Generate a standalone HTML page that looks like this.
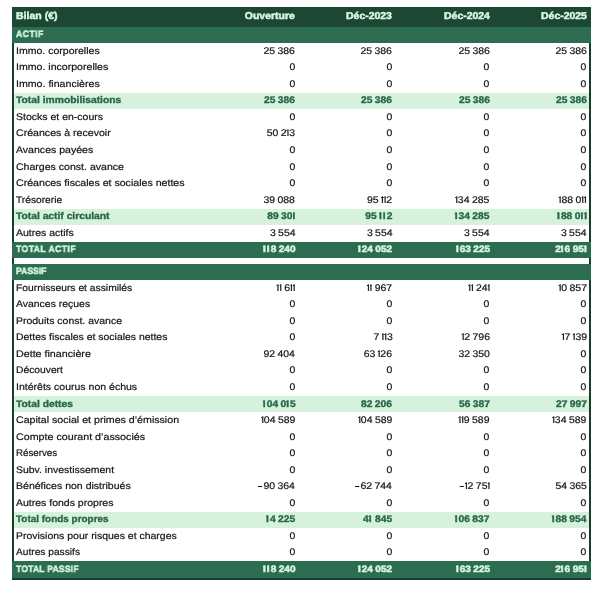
<!DOCTYPE html>
<html><head><meta charset="utf-8">
<style>
html,body{margin:0;padding:0;background:#fff;}
body{width:600px;height:589px;position:relative;overflow:hidden;font-family:"Liberation Sans",sans-serif;text-rendering:geometricPrecision;}
.frame{position:absolute;left:12px;top:7px;width:575px;height:571px;border:2px solid #173d2c;border-top:0;}
.row{position:absolute;left:0;width:600px;}
.bg{position:absolute;left:14px;width:575px;top:0;bottom:0;}
.row>span{position:absolute;white-space:nowrap;font-size:9.6px;line-height:16.55px;top:0.7px;color:#151515;-webkit-text-stroke:0.2px currentColor;will-change:transform;}
.lab{left:15.6px;transform-origin:0 50%;}
.num{transform-origin:100% 50%;transform:scaleX(1.09);}
b{font-weight:inherit;}
.o{letter-spacing:-0.2px;position:relative;}
.o::before{content:"";position:absolute;left:0.1px;top:2.2px;width:1.0px;height:1.1px;background:currentColor;}
.sp{display:inline-block;width:2.2px;}
.mn{display:inline-block;width:3.8px;height:1.1px;background:currentColor;vertical-align:2.2px;margin-right:1.2px;}
.rh .bg{background:#1c4734;left:12px;width:579px;}
.rh>span{color:#d6f7df;font-weight:bold;font-size:10.0px;line-height:20px;top:0.0px;}
.rh .num{transform:scaleX(1.045);}
.rs .bg{background:#2c6c50;left:12px;width:579px;}
.rs>span{color:#d6f7df;font-weight:bold;line-height:16px;top:-1.0px;font-size:9.2px;}
.rt .bg{background:#d6f2dc;}
.rt>span{color:#28664a;font-weight:bold;}
.rt .num{transform:scaleX(1.07);}
.rg .num{transform:scaleX(1.1);}
.rt .o,.rg .o{letter-spacing:0.9px;}
.row .ol{letter-spacing:-0.45px;}
.rg .bg{background:#2c6c50;left:12px;width:579px;}
.rg>span{color:#d6f7df;font-weight:bold;top:-0.2px;font-size:9.2px;}
.rt>span{-webkit-text-stroke:0.35px currentColor;}
.rh>span,.rs>span,.rg>span{-webkit-text-stroke:0.5px currentColor;}
</style></head><body>
<div class="frame"></div>
<div class="row rh" style="top:7.00px;height:20.00px"><i class="bg"></i>
<span class="lab" style="transform:scaleX(1.0542)">Bilan (€)</span>
<span class="num" style="right:304.80px">Ouverture</span>
<span class="num" style="right:207.70px">Déc-2023</span>
<span class="num" style="right:110.20px">Déc-2024</span>
<span class="num" style="right:13.30px">Déc-2025</span>
</div>
<div class="row rs" style="top:27.00px;height:16.00px"><i class="bg"></i>
<span class="lab" style="transform:scaleX(0.93);letter-spacing:0.573px">ACTIF</span>
</div>
<div class="row rn" style="top:43.00px;height:16.55px"><i class="bg"></i>
<span class="lab" style="transform:scaleX(1.0974)">Immo. corporelles</span>
<span class="num" style="right:304.80px">25<b class="sp"></b>386</span>
<span class="num" style="right:207.70px">25<b class="sp"></b>386</span>
<span class="num" style="right:110.20px">25<b class="sp"></b>386</span>
<span class="num" style="right:13.30px">25<b class="sp"></b>386</span>
</div>
<div class="row rn" style="top:59.55px;height:16.55px"><i class="bg"></i>
<span class="lab" style="transform:scaleX(1.1024)">Immo. incorporelles</span>
<span class="num" style="right:304.80px">0</span>
<span class="num" style="right:207.70px">0</span>
<span class="num" style="right:110.20px">0</span>
<span class="num" style="right:13.30px">0</span>
</div>
<div class="row rn" style="top:76.10px;height:16.55px"><i class="bg"></i>
<span class="lab" style="transform:scaleX(1.1053)">Immo. financières</span>
<span class="num" style="right:304.80px">0</span>
<span class="num" style="right:207.70px">0</span>
<span class="num" style="right:110.20px">0</span>
<span class="num" style="right:13.30px">0</span>
</div>
<div class="row rt" style="top:92.65px;height:16.55px"><i class="bg"></i>
<span class="lab" style="transform:scaleX(1.0755)">Total immobilisations</span>
<span class="num" style="right:304.80px">25<b class="sp"></b>386</span>
<span class="num" style="right:207.70px">25<b class="sp"></b>386</span>
<span class="num" style="right:110.20px">25<b class="sp"></b>386</span>
<span class="num" style="right:13.30px">25<b class="sp"></b>386</span>
</div>
<div class="row rn" style="top:109.20px;height:16.55px"><i class="bg"></i>
<span class="lab" style="transform:scaleX(1.0952)">Stocks et en-cours</span>
<span class="num" style="right:304.80px">0</span>
<span class="num" style="right:207.70px">0</span>
<span class="num" style="right:110.20px">0</span>
<span class="num" style="right:13.30px">0</span>
</div>
<div class="row rn" style="top:125.75px;height:16.55px"><i class="bg"></i>
<span class="lab" style="transform:scaleX(1.1036)">Créances à recevoir</span>
<span class="num" style="right:304.80px">50<b class="sp"></b>2<b class="o">I</b>3</span>
<span class="num" style="right:207.70px">0</span>
<span class="num" style="right:110.20px">0</span>
<span class="num" style="right:13.30px">0</span>
</div>
<div class="row rn" style="top:142.30px;height:16.55px"><i class="bg"></i>
<span class="lab" style="transform:scaleX(1.1000)">Avances payées</span>
<span class="num" style="right:304.80px">0</span>
<span class="num" style="right:207.70px">0</span>
<span class="num" style="right:110.20px">0</span>
<span class="num" style="right:13.30px">0</span>
</div>
<div class="row rn" style="top:158.85px;height:16.55px"><i class="bg"></i>
<span class="lab" style="transform:scaleX(1.1000)">Charges const. avance</span>
<span class="num" style="right:304.80px">0</span>
<span class="num" style="right:207.70px">0</span>
<span class="num" style="right:110.20px">0</span>
<span class="num" style="right:13.30px">0</span>
</div>
<div class="row rn" style="top:175.40px;height:16.55px"><i class="bg"></i>
<span class="lab" style="transform:scaleX(1.1052)">Créances fiscales et sociales nettes</span>
<span class="num" style="right:304.80px">0</span>
<span class="num" style="right:207.70px">0</span>
<span class="num" style="right:110.20px">0</span>
<span class="num" style="right:13.30px">0</span>
</div>
<div class="row rn" style="top:191.95px;height:16.55px"><i class="bg"></i>
<span class="lab" style="transform:scaleX(1.0630)">Trésorerie</span>
<span class="num" style="right:304.80px">39<b class="sp"></b>088</span>
<span class="num" style="right:207.70px">95<b class="sp"></b><b class="o">I</b><b class="o">I</b>2</span>
<span class="num" style="right:110.20px"><b class="o">I</b>34<b class="sp"></b>285</span>
<span class="num" style="right:13.30px"><b class="o">I</b>88<b class="sp"></b>0<b class="o">I</b><b class="o ol">I</b></span>
</div>
<div class="row rt" style="top:208.50px;height:16.55px"><i class="bg"></i>
<span class="lab" style="transform:scaleX(1.0716)">Total actif circulant</span>
<span class="num" style="right:304.80px">89<b class="sp"></b>30<b class="o ol">I</b></span>
<span class="num" style="right:207.70px">95<b class="sp"></b><b class="o">I</b><b class="o">I</b>2</span>
<span class="num" style="right:110.20px"><b class="o">I</b>34<b class="sp"></b>285</span>
<span class="num" style="right:13.30px"><b class="o">I</b>88<b class="sp"></b>0<b class="o">I</b><b class="o ol">I</b></span>
</div>
<div class="row rn" style="top:225.05px;height:16.55px"><i class="bg"></i>
<span class="lab" style="transform:scaleX(1.0945)">Autres actifs</span>
<span class="num" style="right:304.80px">3<b class="sp"></b>554</span>
<span class="num" style="right:207.70px">3<b class="sp"></b>554</span>
<span class="num" style="right:110.20px">3<b class="sp"></b>554</span>
<span class="num" style="right:13.30px">3<b class="sp"></b>554</span>
</div>
<div class="row rg" style="top:241.60px;height:16.55px"><i class="bg"></i>
<span class="lab" style="transform:scaleX(0.93);letter-spacing:0.517px">TOTAL ACTIF</span>
<span class="num" style="right:304.80px"><b class="o">I</b><b class="o">I</b>8<b class="sp"></b>240</span>
<span class="num" style="right:207.70px"><b class="o">I</b>24<b class="sp"></b>052</span>
<span class="num" style="right:110.20px"><b class="o">I</b>63<b class="sp"></b>225</span>
<span class="num" style="right:13.30px">2<b class="o">I</b>6<b class="sp"></b>95<b class="o ol">I</b></span>
</div>
<div class="row rs" style="top:264.00px;height:16.00px"><i class="bg"></i>
<span class="lab" style="transform:scaleX(0.93);letter-spacing:0.030px">PASSIF</span>
</div>
<div class="row rn" style="top:280.00px;height:16.55px"><i class="bg"></i>
<span class="lab" style="transform:scaleX(1.0733)">Fournisseurs et assimilés</span>
<span class="num" style="right:304.80px"><b class="o">I</b><b class="o">I</b><b class="sp"></b>6<b class="o">I</b><b class="o ol">I</b></span>
<span class="num" style="right:207.70px"><b class="o">I</b><b class="o">I</b><b class="sp"></b>967</span>
<span class="num" style="right:110.20px"><b class="o">I</b><b class="o">I</b><b class="sp"></b>24<b class="o ol">I</b></span>
<span class="num" style="right:13.30px"><b class="o">I</b>0<b class="sp"></b>857</span>
</div>
<div class="row rn" style="top:296.55px;height:16.55px"><i class="bg"></i>
<span class="lab" style="transform:scaleX(1.0885)">Avances reçues</span>
<span class="num" style="right:304.80px">0</span>
<span class="num" style="right:207.70px">0</span>
<span class="num" style="right:110.20px">0</span>
<span class="num" style="right:13.30px">0</span>
</div>
<div class="row rn" style="top:313.10px;height:16.55px"><i class="bg"></i>
<span class="lab" style="transform:scaleX(1.0917)">Produits const. avance</span>
<span class="num" style="right:304.80px">0</span>
<span class="num" style="right:207.70px">0</span>
<span class="num" style="right:110.20px">0</span>
<span class="num" style="right:13.30px">0</span>
</div>
<div class="row rn" style="top:329.65px;height:16.55px"><i class="bg"></i>
<span class="lab" style="transform:scaleX(1.0875)">Dettes fiscales et sociales nettes</span>
<span class="num" style="right:304.80px">0</span>
<span class="num" style="right:207.70px">7<b class="sp"></b><b class="o">I</b><b class="o">I</b>3</span>
<span class="num" style="right:110.20px"><b class="o">I</b>2<b class="sp"></b>796</span>
<span class="num" style="right:13.30px"><b class="o">I</b>7<b class="sp"></b><b class="o">I</b>39</span>
</div>
<div class="row rn" style="top:346.20px;height:16.55px"><i class="bg"></i>
<span class="lab" style="transform:scaleX(1.1137)">Dette financière</span>
<span class="num" style="right:304.80px">92<b class="sp"></b>404</span>
<span class="num" style="right:207.70px">63<b class="sp"></b><b class="o">I</b>26</span>
<span class="num" style="right:110.20px">32<b class="sp"></b>350</span>
<span class="num" style="right:13.30px">0</span>
</div>
<div class="row rn" style="top:362.75px;height:16.55px"><i class="bg"></i>
<span class="lab" style="transform:scaleX(1.0729)">Découvert</span>
<span class="num" style="right:304.80px">0</span>
<span class="num" style="right:207.70px">0</span>
<span class="num" style="right:110.20px">0</span>
<span class="num" style="right:13.30px">0</span>
</div>
<div class="row rn" style="top:379.30px;height:16.55px"><i class="bg"></i>
<span class="lab" style="transform:scaleX(1.0973)">Intérêts courus non échus</span>
<span class="num" style="right:304.80px">0</span>
<span class="num" style="right:207.70px">0</span>
<span class="num" style="right:110.20px">0</span>
<span class="num" style="right:13.30px">0</span>
</div>
<div class="row rt" style="top:395.85px;height:16.55px"><i class="bg"></i>
<span class="lab" style="transform:scaleX(1.0717)">Total dettes</span>
<span class="num" style="right:304.80px"><b class="o">I</b>04<b class="sp"></b>0<b class="o">I</b>5</span>
<span class="num" style="right:207.70px">82<b class="sp"></b>206</span>
<span class="num" style="right:110.20px">56<b class="sp"></b>387</span>
<span class="num" style="right:13.30px">27<b class="sp"></b>997</span>
</div>
<div class="row rn" style="top:412.40px;height:16.55px"><i class="bg"></i>
<span class="lab" style="transform:scaleX(1.1080)">Capital social et primes d’émission</span>
<span class="num" style="right:304.80px"><b class="o">I</b>04<b class="sp"></b>589</span>
<span class="num" style="right:207.70px"><b class="o">I</b>04<b class="sp"></b>589</span>
<span class="num" style="right:110.20px"><b class="o">I</b><b class="o">I</b>9<b class="sp"></b>589</span>
<span class="num" style="right:13.30px"><b class="o">I</b>34<b class="sp"></b>589</span>
</div>
<div class="row rn" style="top:428.95px;height:16.55px"><i class="bg"></i>
<span class="lab" style="transform:scaleX(1.1155)">Compte courant d’associés</span>
<span class="num" style="right:304.80px">0</span>
<span class="num" style="right:207.70px">0</span>
<span class="num" style="right:110.20px">0</span>
<span class="num" style="right:13.30px">0</span>
</div>
<div class="row rn" style="top:445.50px;height:16.55px"><i class="bg"></i>
<span class="lab" style="transform:scaleX(1.0133)">Réserves</span>
<span class="num" style="right:304.80px">0</span>
<span class="num" style="right:207.70px">0</span>
<span class="num" style="right:110.20px">0</span>
<span class="num" style="right:13.30px">0</span>
</div>
<div class="row rn" style="top:462.05px;height:16.55px"><i class="bg"></i>
<span class="lab" style="transform:scaleX(1.0901)">Subv. investissement</span>
<span class="num" style="right:304.80px">0</span>
<span class="num" style="right:207.70px">0</span>
<span class="num" style="right:110.20px">0</span>
<span class="num" style="right:13.30px">0</span>
</div>
<div class="row rn" style="top:478.60px;height:16.55px"><i class="bg"></i>
<span class="lab" style="transform:scaleX(1.0973)">Bénéfices non distribués</span>
<span class="num" style="right:304.80px"><b class="mn"></b>90<b class="sp"></b>364</span>
<span class="num" style="right:207.70px"><b class="mn"></b>62<b class="sp"></b>744</span>
<span class="num" style="right:110.20px"><b class="mn"></b><b class="o">I</b>2<b class="sp"></b>75<b class="o ol">I</b></span>
<span class="num" style="right:13.30px">54<b class="sp"></b>365</span>
</div>
<div class="row rn" style="top:495.15px;height:16.55px"><i class="bg"></i>
<span class="lab" style="transform:scaleX(1.0944)">Autres fonds propres</span>
<span class="num" style="right:304.80px">0</span>
<span class="num" style="right:207.70px">0</span>
<span class="num" style="right:110.20px">0</span>
<span class="num" style="right:13.30px">0</span>
</div>
<div class="row rt" style="top:511.70px;height:16.55px"><i class="bg"></i>
<span class="lab" style="transform:scaleX(1.0364)">Total fonds propres</span>
<span class="num" style="right:304.80px"><b class="o">I</b>4<b class="sp"></b>225</span>
<span class="num" style="right:207.70px">4<b class="o">I</b><b class="sp"></b>845</span>
<span class="num" style="right:110.20px"><b class="o">I</b>06<b class="sp"></b>837</span>
<span class="num" style="right:13.30px"><b class="o">I</b>88<b class="sp"></b>954</span>
</div>
<div class="row rn" style="top:528.25px;height:16.55px"><i class="bg"></i>
<span class="lab" style="transform:scaleX(1.0922)">Provisions pour risques et charges</span>
<span class="num" style="right:304.80px">0</span>
<span class="num" style="right:207.70px">0</span>
<span class="num" style="right:110.20px">0</span>
<span class="num" style="right:13.30px">0</span>
</div>
<div class="row rn" style="top:544.80px;height:16.55px"><i class="bg"></i>
<span class="lab" style="transform:scaleX(1.0620)">Autres passifs</span>
<span class="num" style="right:304.80px">0</span>
<span class="num" style="right:207.70px">0</span>
<span class="num" style="right:110.20px">0</span>
<span class="num" style="right:13.30px">0</span>
</div>
<div class="row rg" style="top:561.35px;height:16.55px"><i class="bg"></i>
<span class="lab" style="transform:scaleX(0.93);letter-spacing:0.236px">TOTAL PASSIF</span>
<span class="num" style="right:304.80px"><b class="o">I</b><b class="o">I</b>8<b class="sp"></b>240</span>
<span class="num" style="right:207.70px"><b class="o">I</b>24<b class="sp"></b>052</span>
<span class="num" style="right:110.20px"><b class="o">I</b>63<b class="sp"></b>225</span>
<span class="num" style="right:13.30px">2<b class="o">I</b>6<b class="sp"></b>95<b class="o ol">I</b></span>
</div>
</body></html>
